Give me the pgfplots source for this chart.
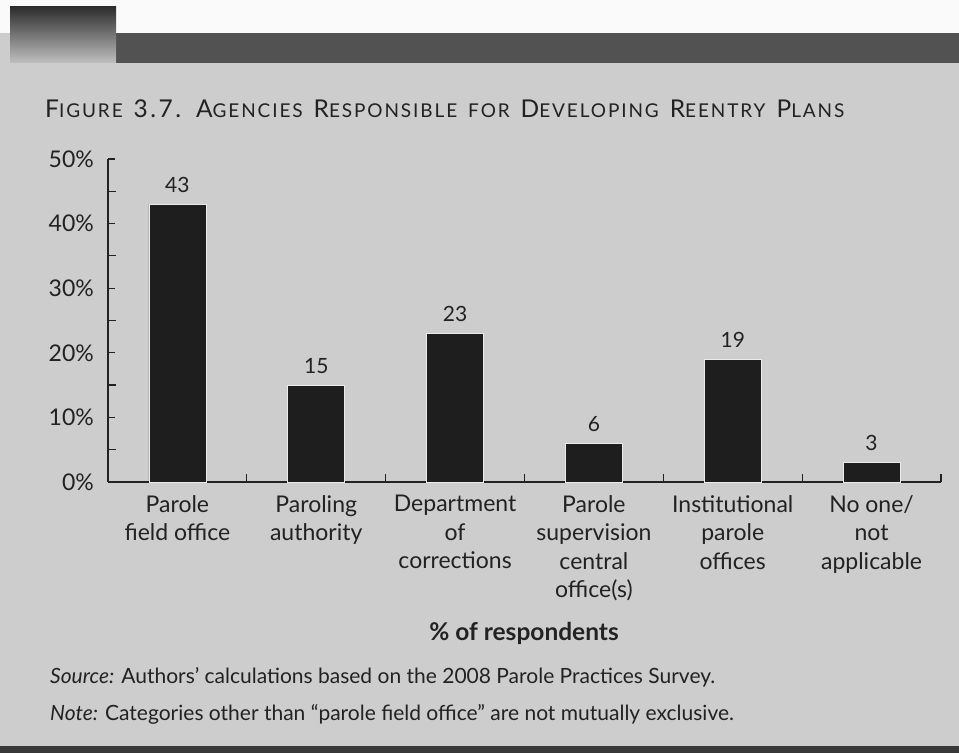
\documentclass[border=0pt]{standalone}
\usepackage{pgfplots}
\pgfplotsset{compat=1.18}
\usepackage{fontspec}
\setmainfont{Lato}
\newfontfamily\titlefont[LetterSpace=10]{Lato}
\definecolor{bg}{RGB}{205,205,205}
\definecolor{ink}{RGB}{34,34,34}
\definecolor{barc}{RGB}{30,30,30}
\definecolor{band}{RGB}{82,82,82}
\newcommand{\BIG}{\fontsize{24.5}{28}\selectfont}
\newcommand{\SM}{\fontsize{19}{22}\selectfont}
\newcommand{\ws}{\hspace{11pt}}
\begin{document}
\begin{tikzpicture}[x=1pt,y=1pt]
\fill[bg] (0,0) rectangle (959,753);
\fill[white!96!gray] (0,720) rectangle (959,753);
\fill[band] (116,690) rectangle (959,720);
\shade[top color=black!82, bottom color=black!25] (10,690) rectangle (116,746);
\fill[black!78] (0,0) rectangle (959,7);
\node[anchor=base west, text=ink, inner sep=0pt, font=\titlefont] at (45pt,635pt)
 {{\BIG F}{\SM IGURE}\ws{\BIG 3.7.}\hspace{15pt}{\BIG A}{\SM GENCIES}\ws{\BIG R}{\SM ESPONSIBLE}\ws{\SM FOR}\ws{\BIG D}{\SM EVELOPING}\ws{\BIG R}{\SM EENTRY}\ws{\BIG P}{\SM LANS}};
\begin{axis}[
  at={(108pt,271pt)}, anchor=south west,
  scale only axis, width=833pt, height=323pt,
  xmin=-0.5, xmax=5.5, ymin=0, ymax=50,
  axis lines=left, axis line style={-, draw=ink, line width=1.6pt},
  xtick={0,1,2,3,4,5},
  xticklabels={{Parole\\field office},{Paroling\\authority},{Department\\of\\corrections},{Parole\\supervision\\central\\office(s)},{Institutional\\parole\\offices},{No one/\\not\\applicable}},
  minor xtick={0.5,1.5,2.5,3.5,4.5,5.5},
  ytick={0,10,20,30,40,50},
  yticklabels={0\%,10\%,20\%,30\%,40\%,50\%},
  minor ytick={5,15,25,35,45},
  tick align=inside,
  major tick length=7pt, minor tick length=7.5pt,
  major x tick style={draw=none},
  tick style={draw=ink, line width=1.2pt},
  xticklabel style={align=center, anchor=north, inner sep=0pt, yshift=-13pt, text=ink, font=\fontsize{23}{28.5}\selectfont},
  yticklabel style={anchor=east, inner sep=0pt, xshift=-14pt, text=ink, font=\fontsize{23}{24}\selectfont},
  /pgf/number format/assume math mode=true,
  nodes near coords,
  every node near coord/.append style={anchor=base, inner sep=0pt, yshift=12pt, text=ink, font=\fontsize{21}{24}\selectfont},
  clip=false,
]
\addplot[ybar, bar width=57pt, fill=barc, draw=black!8, line width=0.8pt] coordinates {(0,43) (1,15) (2,23) (3,6) (4,19) (5,3)};
\end{axis}
\node[anchor=base, text=ink, font=\bfseries\fontsize{24.5}{28}\selectfont] at (524pt,113pt) {\% of respondents};
\node[anchor=base west, inner sep=0pt, text=ink, font=\fontsize{21}{26}\selectfont] at (50pt,70pt) {\textit{Source:} Authors’ calculations based on the 2008 Parole Practices Survey.};
\node[anchor=base west, inner sep=0pt, text=ink, font=\fontsize{21}{26}\selectfont] at (50pt,33pt) {\textit{Note:} Categories other than “parole field office” are not mutually exclusive.};
\end{tikzpicture}
\end{document}
